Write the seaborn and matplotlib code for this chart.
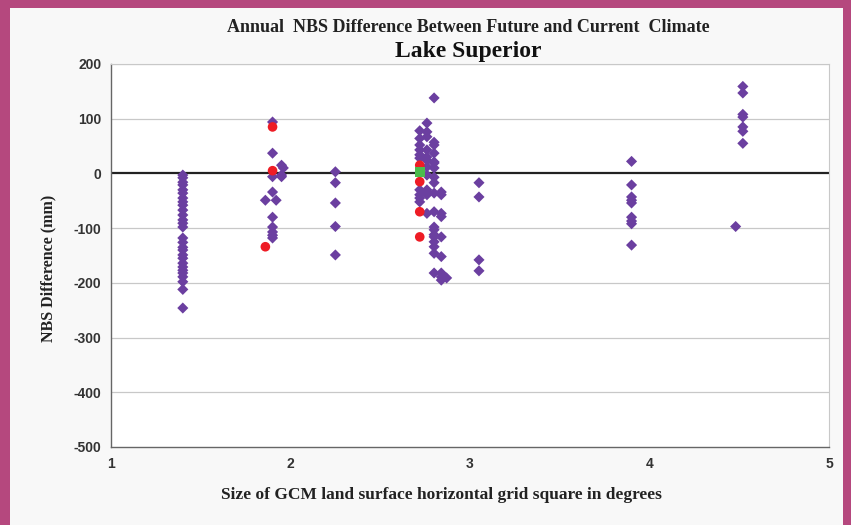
import matplotlib
matplotlib.use("Agg")
import matplotlib.pyplot as plt
import pandas as pd
import seaborn as sns
from matplotlib.patches import Rectangle

# grid size (degrees) and NBS difference (mm)
x_140 = [1.4] * 28
y_140 = [-3, -8, -16, -21, -30, -36, -45, -52, -58, -67, -76, -85, -91, -98,
         -118, -126, -135, -140, -149, -155, -164, -171, -177, -182, -189, -198, -212, -246]

x_190 = [1.9, 1.9, 1.95, 1.96, 1.95, 1.9, 1.95, 1.9, 1.86, 1.92, 1.9, 1.9, 1.9, 1.9, 1.9]
y_190 = [94, 37, 15, 10, -6, -6, -3, -34, -49, -49, -80, -98, -107, -113, -118]

x_225 = [2.25] * 5
y_225 = [3, -17, -54, -97, -149]

x_272 = [2.72] * 10
y_272 = [78, 64, 52, 43, 34, 28, -30, -39, -45, -52]
x_276 = [2.76] * 12
y_276 = [92, 76, 67, 43, 30, 24, 12, -3, -30, -34, -39, -73]
x_280 = [2.8] * 19
y_280 = [138, 57, 52, 37, 21, 19, 10, -7, -17, -36, -70, -98, -103, -112, -116,
         -125, -134, -146, -182]
x_284 = [2.84] * 9
y_284 = [-34, -39, -73, -79, -116, -152, -182, -189, -195]
x_287 = [2.87]
y_287 = [-191]

x_305 = [3.05] * 4
y_305 = [-17, -43, -158, -178]

x_390 = [3.9] * 9
y_390 = [22, -21, -43, -49, -54, -80, -87, -92, -131]

x_450 = [4.52] * 7 + [4.48]
y_450 = [159, 147, 108, 103, 85, 77, 55, -97]

# highlighted models
red_x = [1.9, 1.9, 1.86, 2.72, 2.72, 2.72, 2.72]
red_y = [85, 5, -134, 15, -15, -70, -116]
green_x = [2.72]
green_y = [3]

diam_x = x_140 + x_190 + x_225 + x_272 + x_276 + x_280 + x_284 + x_287 + x_305 + x_390 + x_450
diam_y = y_140 + y_190 + y_225 + y_272 + y_276 + y_280 + y_284 + y_287 + y_305 + y_390 + y_450

df = pd.DataFrame({
    "size": diam_x + red_x + green_x,
    "nbs": diam_y + red_y + green_y,
    "kind": ["gcm"] * len(diam_x) + ["red"] * len(red_x) + ["green"] * len(green_x),
})

sns.set_style("white")
plt.rcParams["axes.unicode_minus"] = False

fig = plt.figure(figsize=(8.51, 5.25), dpi=100)
fig.patch.set_facecolor("#b5487e")
fig.patches.append(Rectangle((10 / 851, 0), 833 / 851, 1 - 8 / 525,
                             transform=fig.transFigure, facecolor="#f8f8f8",
                             edgecolor="none", zorder=-5))

ax = fig.add_axes([111 / 851, 1 - 447 / 525, 718 / 851, 383 / 525])
ax.set_facecolor("white")

sns.scatterplot(data=df[df.kind == "gcm"], x="size", y="nbs", marker="D", s=32,
                color="#6b3fa0", edgecolor="none", ax=ax, zorder=3)
sns.scatterplot(data=df[df.kind == "red"], x="size", y="nbs", marker="o", s=48,
                color="#ee1c25", edgecolor="none", ax=ax, zorder=4)
sns.scatterplot(data=df[df.kind == "green"], x="size", y="nbs", marker="s", s=48,
                color="#4cbb4c", edgecolor="none", ax=ax, zorder=5)

ax.set_xlim(1, 5)
ax.set_ylim(-500, 200)
ax.set_xticks([1, 2, 3, 4, 5])
ax.set_yticks(range(-500, 201, 100))
for v in range(-400, 201, 100):
    if v != 0:
        ax.axhline(v, color="#c8c8c8", lw=0.9, zorder=1)
ax.axhline(0, color="#222222", lw=1.6, zorder=2)

for side in ["left", "bottom"]:
    ax.spines[side].set_color("#666666")
    ax.spines[side].set_linewidth(1.0)
ax.spines["right"].set_color("#c8c8c8")
ax.spines["top"].set_color("#c8c8c8")
ax.tick_params(axis="both", direction="out", length=5, width=1, color="#666666",
               labelsize=10, pad=2)
for lab in ax.get_xticklabels() + ax.get_yticklabels():
    lab.set_fontweight("bold")
    lab.set_family("Liberation Sans")
    lab.set_color("#333333")

ax.set_xlabel("Size of GCM land surface horizontal grid square in degrees",
              family="Liberation Serif", fontweight="bold", fontsize=12.5,
              color="#222222")
ax.xaxis.set_label_coords(0.46, -0.104)
ax.set_ylabel("NBS Difference (mm)", family="Liberation Serif", fontweight="bold",
              fontsize=11.5, color="#222222")
ax.yaxis.set_label_coords(-0.076, 0.467)

fig.text(468 / 851, 1 - 28 / 525, "Annual  NBS Difference Between Future and Current  Climate",
         ha="center", va="center", family="Liberation Serif", fontweight="bold",
         fontsize=13, color="#222222")
fig.text(468 / 851, 1 - 51 / 525, "Lake Superior", ha="center", va="center",
         family="Liberation Serif", fontweight="bold", fontsize=17, color="#111111")

fig.savefig("out.png", dpi=100, facecolor=fig.get_facecolor())
